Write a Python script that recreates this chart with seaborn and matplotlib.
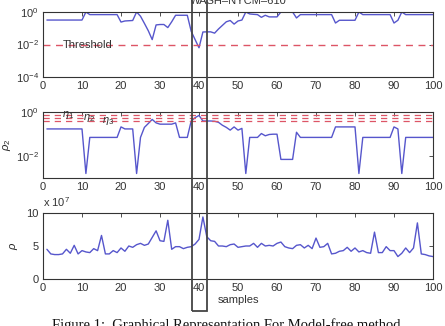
import numpy as np
import pandas as pd
import seaborn as sns
import matplotlib
matplotlib.use("Agg")
import matplotlib.pyplot as plt
from matplotlib.patches import Rectangle
from matplotlib.ticker import FixedLocator, NullLocator, LogFormatterMathtext

# ---------------- data ----------------
samples = list(range(1, 101))

rho1 = [0.32, 0.32, 0.32, 0.32, 0.32, 0.32, 0.32, 0.32, 0.32, 0.32,
        1.0, 0.69, 0.69, 0.69, 0.69, 0.69, 0.69, 0.69, 0.69, 0.24,
        0.28, 0.29, 0.30, 1.0, 0.55, 0.2, 0.07, 0.02, 0.16, 0.17,
        0.17, 0.11, 0.25, 0.63, 0.63, 0.63, 0.63, 0.065, 0.02, 0.0063,
        0.059, 0.06, 0.06, 0.05, 0.09, 0.15, 0.25, 0.30, 0.18, 0.28,
        0.32, 1.0, 0.76, 0.72, 0.69, 0.47, 0.63, 0.5, 0.5, 0.5,
        1.0, 1.0, 1.0, 1.0, 0.43, 0.69, 0.69, 0.69, 0.69, 0.69,
        0.69, 0.69, 0.69, 0.69, 0.21, 0.31, 0.31, 0.31, 0.31, 0.31,
        1.0, 0.69, 0.69, 0.69, 0.69, 0.69, 0.69, 0.69, 0.69, 0.21,
        0.31, 1.0, 0.69, 0.69, 0.69, 0.69, 0.69, 0.69, 0.69, 0.69]

rho2 = [0.17, 0.17, 0.17, 0.17, 0.17, 0.17, 0.17, 0.17, 0.17, 0.17,
        0.0016, 0.07, 0.07, 0.07, 0.07, 0.07, 0.07, 0.07, 0.07, 0.21,
        0.17, 0.17, 0.17, 0.0016, 0.07, 0.2, 0.3, 0.46, 0.32, 0.28,
        0.28, 0.28, 0.28, 0.32, 0.07, 0.07, 0.07, 0.39, 0.55, 0.7,
        0.39, 0.39, 0.39, 0.38, 0.34, 0.25, 0.2, 0.15, 0.21, 0.15,
        0.18, 0.0016, 0.07, 0.07, 0.07, 0.105, 0.083, 0.095, 0.098, 0.098,
        0.007, 0.007, 0.007, 0.007, 0.12, 0.07, 0.07, 0.07, 0.07, 0.07,
        0.07, 0.07, 0.07, 0.07, 0.21, 0.21, 0.21, 0.21, 0.21, 0.21,
        0.0016, 0.07, 0.07, 0.07, 0.07, 0.07, 0.07, 0.07, 0.07, 0.21,
        0.17, 0.0016, 0.07, 0.07, 0.07, 0.07, 0.07, 0.07, 0.07, 0.07]

rho_e7 = [4.5, 3.8, 3.7, 3.7, 3.8, 4.5, 3.9, 5.1, 3.8, 4.3,
          4.1, 4.0, 4.6, 4.3, 6.6, 3.8, 3.8, 4.3, 4.0, 4.7,
          4.2, 5.0, 4.8, 5.2, 5.4, 5.1, 5.3, 6.3, 7.3, 5.8,
          5.7, 8.9, 4.5, 4.9, 4.9, 4.6, 4.8, 4.9, 5.3, 6.0,
          9.4, 6.4, 5.8, 5.7, 5.0, 5.0, 4.9, 5.2, 5.3, 4.8,
          4.9, 5.0, 5.0, 5.4, 4.8, 5.4, 5.0, 5.1, 5.0, 5.4,
          5.6, 4.9, 4.7, 4.6, 5.1, 5.2, 4.7, 5.1, 4.6, 6.2,
          4.8, 4.9, 5.4, 3.8, 3.9, 4.2, 4.3, 4.8, 4.2, 4.7,
          4.1, 4.3, 4.0, 3.9, 7.1, 4.0, 4.0, 4.9, 4.3, 4.3,
          3.4, 3.9, 4.7, 4.0, 4.7, 8.5, 3.8, 3.7, 3.5, 3.4]

threshold = 0.01
eta_values = [0.75, 0.55, 0.40]
eta_labels = [r"$\eta_1$", r"$\eta_2$", r"$\eta_3$"]
eta_label_x = [5.0, 10.3, 15.2]
highlight = (38.2, 42.0)
x_ticks = list(range(0, 101, 10))
title = "WASH–NYCM–610"
caption = "Figure 1:  Graphical Representation For Model-free method"

df = pd.DataFrame({"samples": samples, "rho1": rho1, "rho2": rho2, "rho": rho_e7})

# ---------------- style ----------------
sns.set_style("white")
plt.rcParams["font.family"] = ["Liberation Sans", "DejaVu Sans"]
plt.rcParams["mathtext.fontset"] = "custom"
plt.rcParams["mathtext.rm"] = "Liberation Sans"
plt.rcParams["mathtext.it"] = "Liberation Sans:italic"
plt.rcParams["font.size"] = 8

LINE = "#5656cc"
RED = "#dd5566"
FRAME = "#333333"
DASH = (0, (5, 4))

W, H = 445, 326
fig = plt.figure(figsize=(W / 100, H / 100), dpi=100)

def pos(top, bottom, left=43, right=433):
    return [left / W, 1 - bottom / H, (right - left) / W, (bottom - top) / H]

ax1 = fig.add_axes(pos(12, 77))
ax2 = fig.add_axes(pos(112, 178))
ax3 = fig.add_axes(pos(213, 279))

for ax in (ax1, ax2, ax3):
    ax.set_xlim(0, 100)
    ax.set_xticks(x_ticks)
    ax.tick_params(direction="in", top=True, right=True, length=3, width=0.6,
                   labelsize=8, colors=FRAME, pad=3)
    for sp in ax.spines.values():
        sp.set_color(FRAME)
        sp.set_linewidth(0.8)
    ax.set_facecolor("white")

# top panel
sns.lineplot(data=df, x="samples", y="rho1", ax=ax1, color=LINE, lw=1.0)
ax1.set_yscale("log")
ax1.set_ylim(1e-4, 1)
ax1.yaxis.set_major_locator(FixedLocator([1e-4, 1e-2, 1]))
ax1.yaxis.set_major_formatter(LogFormatterMathtext())
ax1.yaxis.set_minor_locator(NullLocator())
ax1.axhline(threshold, color=RED, lw=1.0, ls=DASH)
ax1.text(5, threshold, "Threshold", va="center", ha="left", fontsize=8, color="#333333")
ax1.set_title(title, fontsize=8, pad=5.8, color="#333333")
ax1.set_xlabel("")
ax1.set_ylabel("")

# middle panel
sns.lineplot(data=df, x="samples", y="rho2", ax=ax2, color=LINE, lw=1.0)
ax2.set_yscale("log")
ax2.set_ylim(1e-3, 1)
ax2.yaxis.set_major_locator(FixedLocator([1e-2, 1]))
ax2.yaxis.set_major_formatter(LogFormatterMathtext())
ax2.yaxis.set_minor_locator(NullLocator())
for v, lab, lx in zip(eta_values, eta_labels, eta_label_x):
    ax2.axhline(v, color=RED, lw=0.9, ls=DASH)
    ax2.text(lx, v, lab, va="center", ha="left", fontsize=8, color="#333333")
ax2.set_xlabel("")
ax2.set_ylabel(r"$\rho_2$", fontsize=8)
ax2.yaxis.set_label_coords(-0.077, 0.5)

# bottom panel
sns.lineplot(data=df, x="samples", y="rho", ax=ax3, color=LINE, lw=1.0)
ax3.set_ylim(0, 10)
ax3.set_yticks([0, 5, 10])
ax3.set_xlabel("samples", fontsize=8, labelpad=1, color="#333333")
ax3.set_ylabel(r"$\rho$", fontsize=8)
ax3.yaxis.set_label_coords(-0.058, 0.5)
ax3.text(0, 1.09, r"x 10$^{7}$", transform=ax3.transAxes, ha="left", va="baseline",
         fontsize=8, color="#333333")

# highlight rectangle spanning all panels
fig.canvas.draw()
x0 = ax3.transData.transform((highlight[0], 0))[0] / W
x1 = ax3.transData.transform((highlight[1], 0))[0] / W
y0 = 1 - 311 / H
fig.add_artist(Rectangle((x0, y0), x1 - x0, 1.05 - y0, transform=fig.transFigure,
                         fill=False, ec="#444444", lw=1.3, clip_on=False))

fig.text(226 / W, -3 / H, caption, ha="center", va="baseline",
         fontsize=10.5, family=["Liberation Serif", "DejaVu Serif"], color="#111111")

fig.savefig("out.png", dpi=100, facecolor="white")
